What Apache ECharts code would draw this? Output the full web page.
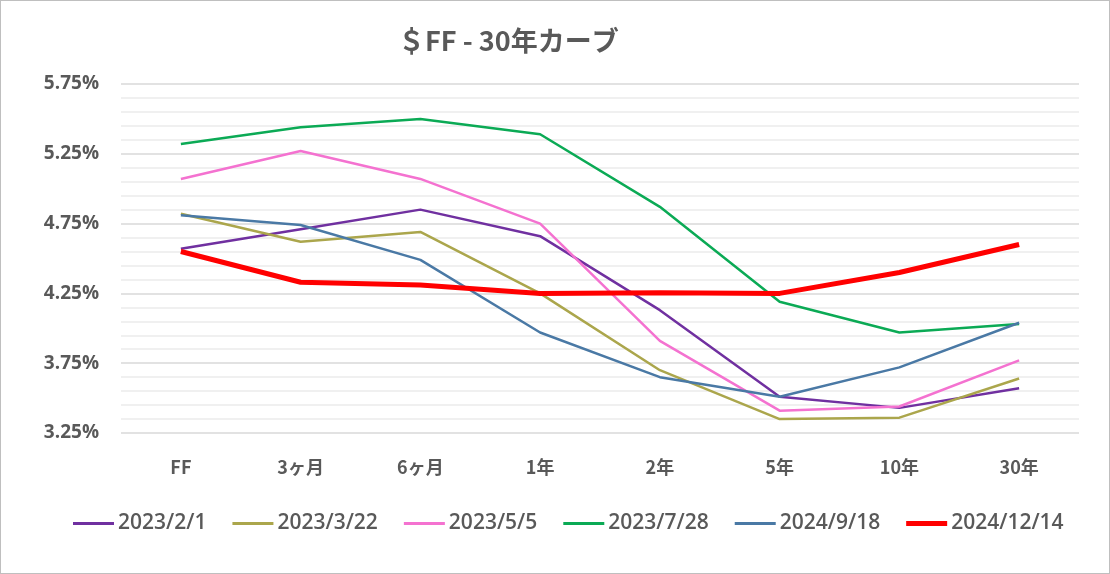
<!DOCTYPE html>
<html><head><meta charset="utf-8">
<script src="https://cdn.jsdelivr.net/npm/echarts@6/dist/echarts.min.js"></script>
<style>
html,body{margin:0;padding:0;background:#fff;}
#c{width:1108px;height:572px;border:1px solid #bfbfbf;}
</style></head>
<body><div id="c"></div>
<script>
const categories = ['FF','3ヶ月','6ヶ月','1年','2年','5年','10年','30年'];
const s20230201 = [4.57, 4.71, 4.85, 4.66, 4.13, 3.51, 3.43, 3.57];
const s20230322 = [4.82, 4.62, 4.69, 4.25, 3.70, 3.35, 3.36, 3.64];
const s20230505 = [5.07, 5.27, 5.07, 4.75, 3.91, 3.41, 3.44, 3.77];
const s20230728 = [5.32, 5.44, 5.50, 5.39, 4.87, 4.19, 3.97, 4.03];
const s20240918 = [4.81, 4.74, 4.49, 3.97, 3.65, 3.51, 3.72, 4.04];
const s20241214 = [4.55, 4.33, 4.31, 4.25, 4.255, 4.25, 4.40, 4.60];
const seriesNames = ['2023/2/1','2023/3/22','2023/5/5','2023/7/28','2024/9/18','2024/12/14'];
const seriesData = [s20230201, s20230322, s20230505, s20230728, s20240918, s20241214];
const colors = ['#7030A0','#ABA64C','#F472D0','#0BAA55','#4A79A5','#FF0000'];
const widths = [2.5,2.5,2.5,2.5,2.5,5];

const chart = echarts.init(document.getElementById('c'));
chart.setOption({
  animation:false,
  title:{text:'＄FF - 30年カーブ', left:392, top:21,
    textStyle:{fontFamily:'Noto Sans CJK JP', fontSize:27, fontWeight:'bold', color:'#595959'}},
  legend:{bottom:34, left:67, itemWidth:41, itemHeight:5, itemGap:26,
    textStyle:{fontFamily:'Open Sans', fontSize:21, fontWeight:600, color:'#595959', padding:[0,0,0,-1]},
    data:seriesNames.map((n,i)=>({name:n,
      icon: i===5 ? 'path://M0,0h41v5h-41z' : 'path://M0,0h41v3h-41z'}))},
  grid:{left:120, right:30, top:83, bottom:140},
  xAxis:{type:'category', data:categories, boundaryGap:true,
    axisLine:{show:false}, axisTick:{show:false},
    axisLabel:{margin:25, fontFamily:'Noto Sans CJK JP', fontSize:18, fontWeight:'bold', color:'#595959'}},
  yAxis:{type:'value', min:3.25, max:5.75, interval:0.5,
    axisLine:{show:false}, axisTick:{show:false},
    axisLabel:{margin:22, fontFamily:'Open Sans', fontSize:19, fontWeight:'bold', color:'#595959',
      formatter:v=>v.toFixed(2)+'%'},
    splitLine:{lineStyle:{color:'#d9d9d9', width:1.5}},
    minorTick:{show:false, splitNumber:5},
    minorSplitLine:{show:true, lineStyle:{color:'#ececec', width:1.5}}},
  series: seriesNames.map((n,i)=>({
    name:n, type:'line', data:seriesData[i], symbol:'none',
    lineStyle:{color:colors[i], width:widths[i]}, itemStyle:{color:colors[i]}, z:i+2
  }))
});
</script></body></html>
